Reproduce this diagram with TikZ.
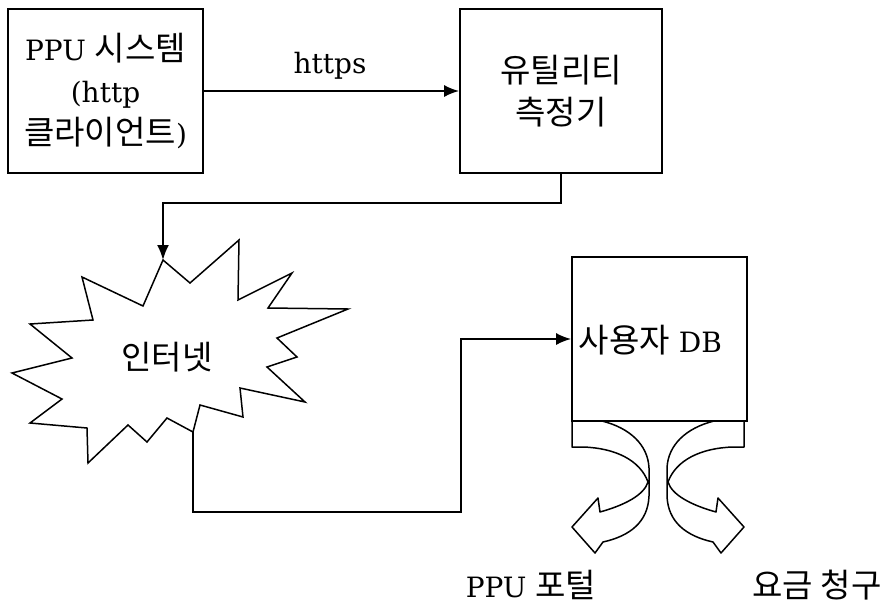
\documentclass[tikz,border=0pt]{standalone}
\usepackage{fontspec}
\setmainfont{DejaVu Serif}
\newfontfamily\kr[Scale=1.18]{Noto Sans CJK KR}
\usetikzlibrary{arrows.meta}
\begin{document}
\begin{tikzpicture}[x=1pt,y=-1pt,line width=1.8pt,
  box/.style={draw,inner sep=0pt,font=\fontsize{28}{42}\selectfont,align=center},
  lbl/.style={inner sep=0pt,font=\fontsize{28}{42}\selectfont,align=center},
  arr/.style={-{Latex[length=15pt,width=12pt]}},
  curv/.style={draw,line width=1.5pt,fill=white,line join=round},
  burst/.style={draw,line width=1.5pt,line join=miter}]
\useasboundingbox[fill=white] (0,0) rectangle (887,603);

\node[box,minimum width=195pt,minimum height=164pt] (ppu) at (105.5,91)
  {PPU {\kr 시스템}\\(http\\{\kr 클라이언트})};
\node[box,minimum width=202pt,minimum height=164pt] (util) at (561,91)
  {{\kr 유틸리티}\\{\kr 측정기}};
\node[box,minimum width=175pt,minimum height=164pt] (db) at (659.5,339) {};
\node[lbl,anchor=west] (dbtext) at (578,340) {{\kr 사용자} DB};

\node[lbl] (https) at (330,66) {https};

% Internet starburst
\draw[burst] (163,260) -- (190,283) -- (239,240) -- (238,300) -- (292,273) -- (268,308)
  -- (348,309) -- (277,338) -- (297,357) -- (267,367) -- (305,402) -- (240,388)
  -- (243,417) -- (200,405) -- (193,432) -- (167,418) -- (147,442) -- (128,425)
  -- (88,463) -- (87,428) -- (30,423) -- (62,399) -- (12,373) -- (72,358)
  -- (30,324) -- (93,320) -- (82,277) -- (143,306) -- cycle;
\coordinate (netTop) at (163,260);
\coordinate (netBot) at (193,432);
\node[lbl] (net) at (167,357) {\kr 인터넷};

% connectors
\draw[arr] (ppu) -- (util);
\draw[arr] (util.south) -- (util.south |- 0,203) -| (netTop);
\coordinate (turn) at (461,512);
\draw[arr] (netBot) |- (turn) |- (db.west);

% curved arrows
\draw[curv] (572,421) -- (602,421) .. controls (630,428) and (648,445) .. (649,468)
  -- (649,496) .. controls (648,522) and (630,536) .. (603,542) -- (595,553)
  -- (572,527) -- (598,498) -- (600,512) .. controls (625,505) and (644,495) .. (648,482)
  .. controls (640,460) and (615,448) .. (583,447) -- (572,447) -- cycle;
\draw[curv] (744,421) -- (714,421) .. controls (686,428) and (668,445) .. (667,468)
  -- (667,496) .. controls (668,522) and (686,536) .. (713,542) -- (721,553)
  -- (744,527) -- (718,498) -- (716,512) .. controls (691,505) and (672,495) .. (668,482)
  .. controls (676,460) and (701,448) .. (733,447) -- (744,447) -- cycle;

\node[lbl] (portal) at (531,585) {PPU {\kr 포털}};
\node[lbl] (billing) at (817,585) {\kr 요금 청구};
\end{tikzpicture}
\end{document}
